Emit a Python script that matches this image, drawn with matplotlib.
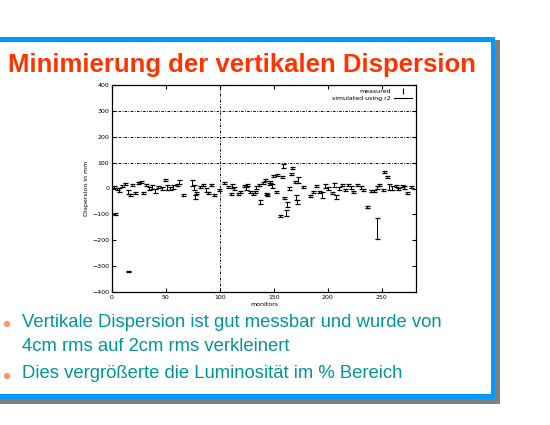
import matplotlib
matplotlib.use("Agg")
import matplotlib.pyplot as plt
from matplotlib.patches import Rectangle, Circle
from matplotlib.lines import Line2D

# ---- data: vertical dispersion per monitor (mm) ----
monitors = [2, 3, 4.5, 6.5, 9, 12, 15, 15, 17, 19, 21, 24, 27, 29, 32, 34, 37, 40,
            43, 46, 49, 51, 54, 57, 60, 62, 66, 74, 76, 77, 78, 82, 84, 87, 89, 92,
            95, 99, 104, 108, 110, 111, 113, 117, 119, 122, 124, 125, 128, 131, 133,
            134, 136, 137, 140, 142, 143, 144, 146, 147, 148, 149, 152, 153, 156,
            158, 159, 160, 161, 162, 164, 166, 167, 170, 171, 172, 173, 177, 184,
            186, 189, 192, 195, 198, 200, 204, 206, 208, 211, 213, 216, 219, 222,
            224, 227, 231, 233, 237, 240, 243, 246, 246, 248, 251, 252, 255, 257,
            260, 263, 265, 269, 271, 274, 277]
dispersion = [6, -98, -2, -6, 10, 18, -13, -320, -25, 14, -17, 21, 25, -17, 14, 0, 6,
              -10, 6, 0, 33, 4, 0, 6, 14, 25, -25, 21, 4, -33, -17, 6, 14, -6, -17,
              14, -25, -6, 21, 6, -20, 10, 0, -20, -15, 10, 0, 14, -15, -20, -12, 4,
              12, -52, 23, 33, -20, -25, 18, 25, 10, 48, -15, 52, -106, 44, 87, -37,
              -95, -63, 0, 56, 79, 25, -35, -52, 33, 6, -29, -15, 10, -12, -25, 10,
              0, -17, 14, -33, 0, 14, -6, 14, 4, -12, 14, 4, -6, -72, -10, -10, 4,
              -155, 14, -4, 64, 44, 6, 2, 10, -2, 10, 4, -17, 6]
errors = [4, 4, 4, 8, 4, 4, 8, 3, 4, 4, 4, 4, 4, 4, 4, 4, 8, 8, 4, 4, 3, 8, 4, 8, 4,
          8, 4, 10, 8, 8, 4, 4, 4, 8, 4, 4, 4, 4, 4, 4, 4, 8, 4, 4, 4, 4, 4, 4, 4, 4,
          4, 4, 4, 8, 4, 4, 4, 4, 4, 4, 8, 3, 4, 3, 3, 4, 6, 3, 10, 10, 4, 4, 4, 4,
          10, 8, 12, 4, 4, 4, 4, 4, 10, 8, 4, 4, 8, 8, 4, 4, 4, 4, 4, 4, 4, 4, 4, 3,
          4, 4, 4, 40, 4, 4, 3, 3, 10, 8, 4, 4, 4, 4, 4, 4]

y_ticks = [400, 300, 200, 100, 0, -100, -200, -300, -400]
x_ticks = [0, 50, 100, 150, 200, 250]
grid_y = [100, 200, 300]
grid_x = [100]

title = "Minimierung der vertikalen Dispersion"
bullet_lines = ["Vertikale Dispersion ist gut messbar und wurde von",
                "4cm rms auf 2cm rms verkleinert",
                "Dies vergrößerte die Luminosität im % Bereich"]
bullet_baselines = [327, 351, 378]
bullet_dots = [324, 376]

W, H = 550, 425
fig = plt.figure(figsize=(W / 100, H / 100), dpi=100)
fig.patch.set_facecolor("white")

# ---- slide background: frame, title, bullets (pixel coordinates) ----
bg = fig.add_axes([0, 0, 1, 1], zorder=0)
bg.set_xlim(0, W)
bg.set_ylim(H, 0)
bg.axis("off")

blue = "#0099FF"
gray = "#808080"
bg.add_patch(Rectangle((495, 40), 5, 364, color=gray, lw=0))
bg.add_patch(Rectangle((0, 399), 500, 5, color=gray, lw=0))
bg.add_patch(Rectangle((0, 37), 495, 5, color=blue, lw=0))
bg.add_patch(Rectangle((491, 37), 4, 362, color=blue, lw=0))
bg.add_patch(Rectangle((0, 394), 495, 5, color=blue, lw=0))

t = bg.text(8, 72, title, color="#FF3300", fontsize=24, fontweight="bold",
            family=["Liberation Sans Narrow", "Liberation Sans", "DejaVu Sans"],
            va="baseline", ha="left")

teal = "#009696"
btexts = []
for line, yb in zip(bullet_lines, bullet_baselines):
    btexts.append(bg.text(22, yb, line, color=teal, fontsize=13, va="baseline",
                          ha="left", family=["Liberation Sans", "DejaVu Sans"]))
for yc in bullet_dots:
    bg.add_patch(Circle((7, yc), 3.2, color="#FF9966", lw=0))

# fit text widths
fig.canvas.draw()
r = fig.canvas.get_renderer()
tw = t.get_window_extent(r).width
t.set_fontsize(24 * 470 / tw)
bw = btexts[0].get_window_extent(r).width
fs = 13 * 421 / bw
for bt in btexts:
    bt.set_fontsize(fs)

# ---- dispersion plot ----
ax = fig.add_axes([112 / W, 1 - 292 / H, (416 - 112) / W, (292 - 85) / H], zorder=2)
ax.set_facecolor("none")
ax.errorbar(monitors, dispersion, yerr=errors, fmt="none", ecolor="black",
            elinewidth=0.7, capsize=1.8, capthick=0.9)
for gy in grid_y:
    ax.axhline(gy, color="black", lw=0.7, ls=(0, (2.5, 1.5, 0.8, 1.5)))
for gx in grid_x:
    ax.axvline(gx, color="black", lw=0.7, ls=(0, (2.5, 1.5, 0.8, 1.5)))

ax.set_xlim(0, 282)
ax.set_ylim(-400, 400)
ax.set_xticks(x_ticks)
ax.set_yticks(y_ticks)
ax.tick_params(direction="in", length=3, width=0.8, labelsize=4.5, top=True,
               right=True, pad=2, colors="black")
for s in ax.spines.values():
    s.set_linewidth(0.9)
ax.set_xlabel("monitors", fontsize=4.5, labelpad=1.5)
ax.set_ylabel("Dispersion in mm", fontsize=4.5, labelpad=2)

handles = [Line2D([], [], color="black", marker="|", ls="none", markersize=4, mew=0.8),
           Line2D([], [], color="black", lw=0.8)]
ax.legend(handles, ["measured", "simulated using r2"], loc="upper right",
          frameon=False, fontsize=4.5, markerfirst=False, handlelength=3,
          borderaxespad=0.2, labelspacing=0.3, handletextpad=0.5)

fig.savefig("out.png", dpi=100)
